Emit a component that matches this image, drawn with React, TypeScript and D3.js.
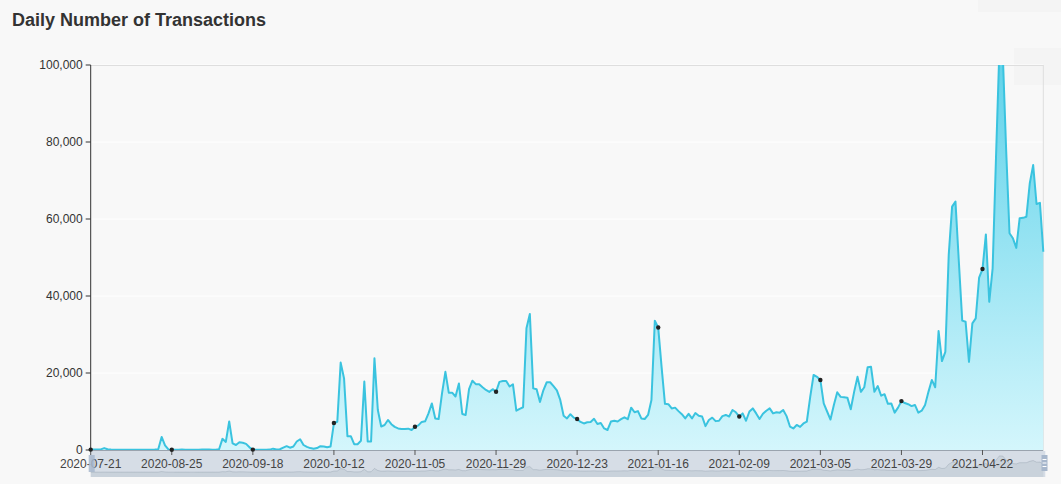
import React from 'react';
import * as d3 from 'd3';

const TITLE = 'Daily Number of Transactions';

// categories: irregular dates at first, then daily
const earlyDates = [
  '2020-07-21', '2020-07-22', '2020-07-23', '2020-07-24', '2020-07-25', '2020-07-27',
  '2020-07-28', '2020-07-30', '2020-07-31', '2020-08-02', '2020-08-04', '2020-08-05',
  '2020-08-07', '2020-08-09', '2020-08-10', '2020-08-12', '2020-08-13', '2020-08-15',
  '2020-08-17', '2020-08-18', '2020-08-20', '2020-08-21', '2020-08-22', '2020-08-24',
];
const dailyStart = '2020-08-25';
const dailyEnd = '2021-05-10';

const yTicks = [0, 20000, 40000, 60000, 80000, 100000];
const labelInterval = 24;

// series values, one block per label interval
const tx0 = [100, 100, 100, 150, 500, 200, 100, 80, 80, 80, 80, 80, 80, 80, 80, 80, 80, 80, 80, 100, 200, 3400, 1200, 150];
const tx1 = [50, 60, 80, 100, 80, 60, 50, 60, 80, 100, 120, 100, 80, 80, 200, 2900, 2100, 7400, 1700, 1300, 2000, 1900, 1600, 700];
const tx2 = [100, 80, 60, 60, 80, 100, 350, 150, 200, 600, 1000, 600, 900, 2200, 2800, 1300, 800, 500, 300, 500, 1000, 900, 700, 900];
const tx3 = [7000, 7350, 22700, 18600, 3600, 3600, 1500, 1500, 2400, 17800, 2200, 2200, 23800, 10400, 6100, 6500, 7800, 6700, 6000, 5600, 5450, 5450, 5550, 5200];
const tx4 = [6050, 6400, 7300, 7450, 9500, 12100, 8200, 8050, 14700, 20300, 14900, 14900, 13900, 17300, 9350, 9100, 15800, 18000, 17100, 17100, 16300, 15600, 15100, 15800];
const tx5 = [15140, 17700, 17900, 17900, 16500, 17050, 10200, 10700, 11100, 31600, 35300, 16000, 15800, 12500, 15500, 17600, 17600, 16600, 15500, 13000, 8900, 8200, 9300, 8400];
const tx6 = [8050, 7300, 6900, 7200, 7300, 8100, 6750, 7000, 5600, 5200, 7400, 7600, 7400, 8000, 8500, 8000, 11000, 9800, 10100, 8200, 8050, 9100, 13000, 33600];
const tx7 = [31800, 21600, 12000, 11900, 10800, 11000, 10100, 9300, 8200, 9400, 8200, 9600, 8900, 8700, 6200, 7800, 8400, 7500, 7600, 8800, 9100, 8700, 10400, 9800];
const tx8 = [8700, 9500, 7600, 10000, 10800, 9500, 8050, 9400, 10200, 10800, 9500, 9800, 9700, 10400, 8800, 6100, 5600, 6500, 6000, 6900, 7400, 13800, 19500, 19000];
const tx9 = [18200, 12100, 10000, 7900, 11700, 15000, 13800, 13700, 13600, 10600, 15100, 19000, 15100, 16300, 21500, 21600, 15100, 16600, 14100, 14500, 12000, 12100, 9700, 11000];
const tx10 = [12700, 12200, 11900, 11400, 11700, 9700, 10200, 11700, 15100, 18200, 16300, 30900, 23100, 25500, 50600, 63200, 64500, 48900, 33600, 33300, 22900, 32900, 34200, 44800];
const tx11 = [47000, 56000, 38500, 47200, 76000, 104000, 103000, 78000, 56300, 55000, 52500, 60200, 60300, 60600, 69300, 74000, 63900, 64200, 51500];

const values = [...tx0, ...tx1, ...tx2, ...tx3, ...tx4, ...tx5, ...tx6, ...tx7, ...tx8, ...tx9, ...tx10, ...tx11];

const parse = d3.timeParse('%Y-%m-%d');
const fmt = d3.timeFormat('%Y-%m-%d');
const dates = [
  ...earlyDates,
  ...d3.timeDay.range(parse(dailyStart)!, d3.timeDay.offset(parse(dailyEnd)!, 1)).map(fmt),
];

export default function App() {
  const W = 1061;
  const H = 484;
  const left = 90.7;
  const right = 1043.3;
  const top = 65;
  const bottom = 450;
  const sTop = 451;
  const sBot = 477;

  const data = dates.map((d, i) => ({ d, v: values[i], i }));
  const x = d3.scalePoint<string>().domain(dates).range([left, right]);
  const y = d3.scaleLinear().domain([0, 100000]).range([bottom, top]);

  const line = d3.line<any>().x((p) => x(p.d)!).y((p) => y(p.v));
  const area = d3.area<any>().x((p) => x(p.d)!).y0(bottom).y1((p) => y(p.v));

  const vMin = d3.min(values)!;
  const vMax = d3.max(values)!;
  const off = (vMax - vMin) * 0.3;
  const ys = d3.scaleLinear().domain([vMin - off, vMax + off]).range([sBot, sTop]);
  const shadowLine = d3.line<any>().x((p) => x(p.d)!).y((p) => ys(p.v));
  const shadowArea = d3.area<any>().x((p) => x(p.d)!).y0(sBot).y1((p) => ys(p.v));

  const tickData = data.filter((p) => p.i % labelInterval === 0);
  const fmtNum = d3.format(',');
  const font = "'Liberation Sans', Arial, Helvetica, sans-serif";

  return (
    <div style={{ position: 'absolute', left: 0, top: 0 }}>
      <svg width={W} height={H} style={{ display: 'block', fontFamily: font }}>
        <defs>
          <linearGradient id="areaGrad" gradientUnits="userSpaceOnUse" x1="0" y1={top} x2="0" y2={bottom}>
            <stop offset="0" stopColor="#62d3ea" />
            <stop offset="1" stopColor="#d4f6fc" />
          </linearGradient>
          <clipPath id="plotClip">
            <rect x={left - 2} y={top} width={right - left + 4} height={bottom - top + 2} />
          </clipPath>
        </defs>
        <rect x={0} y={0} width={W} height={H} fill="#f8f8f8" />
        <rect x={978} y={0} width={83} height={12} fill="#f4f4f4" />
        <rect x={1014} y={48} width={47} height={37} fill="#f4f4f4" />

        <text x={12} y={26} fontSize={18} fontWeight="bold" fill="#333">{TITLE}</text>

        {/* grid */}
        {yTicks.map((t) => (
          <line key={'g' + t} x1={left} x2={right} y1={y(t)} y2={y(t)} stroke="#ffffff" strokeWidth={1} />
        ))}
        <line x1={left} x2={right} y1={top + 0.5} y2={top + 0.5} stroke="#dedede" />
        <line x1={right} x2={right} y1={top} y2={bottom} stroke="#dedede" />

        {/* series */}
        <g clipPath="url(#plotClip)">
          <path d={area(data)!} fill="url(#areaGrad)" />
          <path d={line(data)!} fill="none" stroke="#3ac3df" strokeWidth={2} strokeLinejoin="round" />
        </g>

        {/* slider */}
        <rect x={left} y={sTop} width={right - left + 2} height={sBot - sTop} fill="rgba(167,183,204,0.42)" />
        <path d={shadowArea(data)!} fill="rgba(47,69,84,0.07)" />
        <path d={shadowLine(data)!} fill="none" stroke="rgba(47,69,84,0.25)" strokeWidth={0.6} />

        {/* x axis */}
        <line x1={left} x2={right} y1={bottom + 0.5} y2={bottom + 0.5} stroke="#9aa3ae" />
        {tickData.map((p) => (
          <g key={'xt' + p.i}>
            <line x1={x(p.d)!} x2={x(p.d)!} y1={bottom} y2={bottom + 5} stroke="#555" />
            <text x={x(p.d)!} y={467.5} fontSize={12} fill="#444" textAnchor="middle">{p.d}</text>
          </g>
        ))}

        {/* slider handles */}
        <rect x={left - 2} y={455} width={6} height={17} fill="#a7b7cc" opacity={0.85} />
        <g>
          <rect x={1041.5} y={455} width={6} height={16} fill="#a7b7cc" />
          {[459.5, 463, 466.5].map((yy) => (
            <line key={yy} x1={1042.5} x2={1046.5} y1={yy} y2={yy} stroke="#ffffff" strokeWidth={1} />
          ))}
        </g>

        {/* y axis */}
        <line x1={left} x2={left} y1={top} y2={bottom} stroke="#333" />
        {yTicks.map((t) => (
          <g key={'yt' + t}>
            <line x1={left - 5} x2={left} y1={y(t)} y2={y(t)} stroke="#333" />
            <text x={left - 8} y={y(t)} dy="0.35em" fontSize={12} fill="#333" textAnchor="end">{fmtNum(t)}</text>
          </g>
        ))}

        {/* symbols at label interval */}
        {tickData.map((p) => (
          <circle key={'c' + p.i} cx={x(p.d)!} cy={y(Math.min(p.v, 100000))} r={2.2} fill="#222" />
        ))}
      </svg>
    </div>
  );
}
